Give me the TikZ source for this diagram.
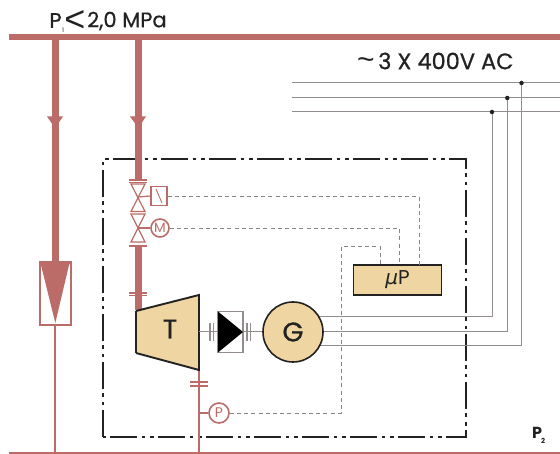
\documentclass[tikz,border=0pt]{standalone}
\usepackage{fontspec}
\setmainfont{Poppins}
\newfontfamily\medf{Poppins}[FakeBold=0.7]
\newfontfamily\ltf{Liberation Sans}
\newfontfamily\muf{DejaVu Sans}
\usetikzlibrary{calc}
\definecolor{pipe}{HTML}{BC6C68}
\definecolor{tan}{HTML}{EFD5A1}
\definecolor{wirec}{HTML}{938C8C}
\definecolor{dash}{HTML}{8A8585}
\definecolor{ink}{HTML}{222222}
\tikzset{
  pipeline/.style={draw=pipe,line width=7pt},
  thinpipe/.style={draw=pipe,line width=2pt},
  redline/.style={draw=pipe,line width=1.2pt},
  wire/.style={draw=wirec,line width=1pt},
  signal/.style={draw=dash,line width=.9pt,dash pattern=on 4pt off 3.2pt},
  frameline/.style={draw=ink,line width=1.7pt,dash pattern=on 27pt off 4.5pt on 3.5pt off 5pt on 3.5pt off 4.5pt},
  label/.style={inner sep=0pt,text=ink},
  dot/.style={circle,fill=ink,inner sep=0pt,minimum size=4.5pt},
  meter/.style={circle,draw=pipe,line width=1.6pt,fill=white,inner sep=0pt,text=pipe},
  flange/.style={draw=pipe,line width=1.2pt},
  coupling/.style={draw=wirec,line width=1.2pt},
}
\begin{document}
\begin{tikzpicture}[x=1pt,y=-1pt]
\useasboundingbox (0,0) rectangle (560,454);
% named points
\coordinate (busL) at (9,37);
\coordinate (busR) at (560,37);
\coordinate (bot) at (9,452.8);
\coordinate (botR) at (560,452.8);
\coordinate (a1) at (55,37);
\coordinate (a2) at (55,262);
\coordinate (a3) at (55,325);
\coordinate (a4) at (55,452.8);
\coordinate (b1) at (138.3,37);
\coordinate (b4) at (138.3,310);
\coordinate (c1) at (199,368);
\coordinate (c2) at (199,452.8);
\coordinate (v1) at (138.3,197);
\coordinate (v2) at (138.3,228);
\coordinate (p0) at (199,413);
% frame
\draw[frameline] (103,437) -- (103,159) -- (466,159) -- (466,437) -- cycle;
% mains
\coordinate (l1a) at (292,83);\coordinate (l1b) at (560,83);
\coordinate (l2a) at (292,98);\coordinate (l2b) at (560,98);
\coordinate (l3a) at (292,112);\coordinate (l3b) at (560,112);
\draw[wire] (l1a) -- (l1b);
\draw[wire] (l2a) -- (l2b);
\draw[wire] (l3a) -- (l3b);
\node[dot] (d1) at (521.5,83) {};
\node[dot] (d2) at (507.3,98) {};
\node[dot] (d3) at (492,112) {};
\coordinate (g1) at (293,317);
\coordinate (g2) at (293,332);
\coordinate (g3) at (293,346);
\draw[wire] (d3) |- (g1);
\draw[wire] (d2) |- (g2);
\draw[wire] (d1) |- (g3);
% pipes
\draw[pipeline] (b1) -- (b4);
\draw[pipeline] (a1) -- (a2);
\draw[draw=pipe,line width=6.5pt] (busL) -- (busR);
\draw[draw=pipe,line width=2.6pt] (bot) -- (botR);
\draw[thinpipe] (a3) -- (a4);
\draw[thinpipe] (c1) -- (c2);
% flow arrows
\fill[pipe] (47,116.5) -- (63,116.5) -- (55,128) -- cycle;
\fill[pipe] (130,116.5) -- (146,116.5) -- (138.3,128) -- cycle;
% bypass box
\node[draw=pipe,line width=2pt,minimum width=31pt,minimum height=63pt,inner sep=0pt,fill=white] (bypass) at (55.3,293.5) {};
\fill[pipe] (40,262) -- (71,262) -- (69,265) -- (55.3,323) -- (41,265) -- cycle;
% valves
\fill[white] (128,179) rectangle (148,247);
\draw[flange] (129,180) -- (147,180);
\draw[flange] (129,182.5) -- (147,182.5);
\draw[redline,fill=white] (131,184) -- (145,184) -- (131,211.5) -- (145,211.5) -- cycle;
\draw[redline,fill=white] (131,214) -- (145,214) -- (131,242) -- (145,242) -- cycle;
\draw[flange] (129,246) -- (147,246);
\draw[flange] (129,293) -- (147,293);
\draw[flange] (129,295.5) -- (147,295.5);
\node[draw=pipe,line width=1.2pt,fill=white,minimum width=16pt,minimum height=19pt,inner sep=0pt] (sol) at (159,196) {};
\draw[redline] (sol.west) -- (v1);
\draw[draw=pipe,line width=.9pt] (156,189) -- (162,203);
\node[meter,minimum size=18pt,font=\fontsize{13.5}{13.5}\selectfont] (mot) at (160,228) {M};
\draw[redline] (mot.west) -- (v2);
% signals
\node[draw=ink,line width=1.5pt,fill=tan,minimum width=88pt,minimum height=30pt,inner sep=0pt,label,font=\fontsize{20}{20}\selectfont] (up) at (397.5,280) {{\muf\itshape μ}P};
\coordinate (u1) at (419,265);
\coordinate (u2) at (399,265);
\coordinate (u3) at (380,265);
\coordinate (tur) at (341,246);
\draw[signal] (sol.east) -| (u1);
\draw[signal] (mot.east) -| (u2);
\node[meter,minimum size=20pt,font=\fontsize{14}{14}\selectfont] (pres) at (219,413) {P};
\draw[redline,line width=1.6pt] (p0) -- (pres.west);
\draw[signal] (pres.east) -| (tur) -| (u3);
% turbine
\coordinate (sh1) at (199,332);
\fill[tan] (136,311) -- (199,295) -- (199,370) -- (136,353) -- cycle;
\draw[ink,line width=1.9pt,line join=miter] (136,353) -- (199,370) -- (199,295) -- (136,311);
\draw[ink,line width=1.1pt] (136,311) -- (136,353);
\node[label,font=\fontsize{27}{27}\selectfont\medf] (T) at (170,329) {T};
% gear box
\node[draw=wirec,line width=1.4pt,fill=white,minimum width=25pt,minimum height=41pt,inner sep=0pt] (rect) at (230.5,332) {};
\fill[black] (218,311.5) -- (243,332) -- (218,352.5) -- cycle;
\node[circle,draw=ink,line width=1.6pt,fill=tan,minimum size=60pt,inner sep=0pt,label,font=\fontsize{27}{27}\selectfont\medf] (G) at (293,332) {G};
\draw[wire] (sh1) -- (rect.west);
\draw[wire] (rect.east) -- (G.west);
\draw[coupling] (210,323) -- (210,341);
\draw[coupling] (213.5,323) -- (213.5,341);
\draw[coupling] (247,323) -- (247,341);
\draw[coupling] (250.5,323) -- (250.5,341);
\draw[flange] (190,382) -- (208,382);
\draw[flange] (190,386) -- (208,386);
% labels
\node[label,font=\fontsize{21}{21}\selectfont\medf] (p1) at (55.5,20.5) {P};
\node[label,font=\fontsize{6}{6}\selectfont] (p1s) at (63,30) {1};
\node[label,font=\fontsize{36}{36}\selectfont\ltf] (lt) at (75,21) {<};
\node[label,anchor=west,font=\fontsize{21}{21}\selectfont\medf] (pv) at (87,21) {2,0 MPa};
\node[label,font=\fontsize{30}{30}\selectfont\ltf] (tl) at (366,63.5) {\textasciitilde};
\node[label,anchor=west,font=\fontsize{22.5}{22.5}\selectfont\medf] (ac) at (378,61) {3 X 400V AC};
\node[label,font=\fontsize{16}{16}\selectfont\bfseries] (p2) at (537,433) {P};
\node[label,font=\fontsize{7}{7}\selectfont\bfseries] (p2s) at (543,441) {2};
\end{tikzpicture}
\end{document}
